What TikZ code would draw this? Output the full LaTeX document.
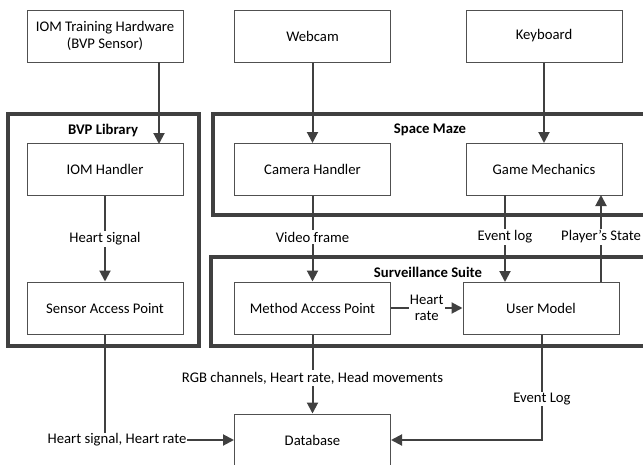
\documentclass[tikz,border=0pt]{standalone}
\usepackage{fontspec}
\setmainfont{Carlito}
\usetikzlibrary{arrows.meta}
\definecolor{ln}{HTML}{404040}
\definecolor{bx}{HTML}{505050}
\begin{document}
\begin{tikzpicture}[x=1pt,y=-1pt,
  box/.style={draw=bx, line width=1pt, minimum width=156pt, minimum height=52pt, inner sep=0pt, align=center, font=\fontsize{14.7}{17}\selectfont},
  cont/.style={draw=ln, line width=3.2pt},
  arr/.style={draw=ln, line width=2pt, -{Triangle[length=11pt,width=11pt]}},
  lbl/.style={fill=white, inner sep=1.5pt, font=\fontsize{14.7}{17}\selectfont, align=center},
  ttl/.style={font=\bfseries\fontsize{14.7}{17}\selectfont}]
\useasboundingbox (0,0) rectangle (643,464);
\clip (0,0) rectangle (643,464);
% containers
\draw[cont] (8,114) rectangle (199,346);
\draw[cont] (213,114) rectangle (660,215);
\draw[cont] (211,257) rectangle (660,346);
\node[ttl] (tbvp) at (103,130) {BVP Library};
\node[ttl] (tsm) at (430,130) {Space Maze};
\node[ttl] (tss) at (428,272) {Surveillance Suite};
% boxes
\node[box] (iom) at (105,36) {IOM Training Hardware\\(BVP Sensor)};
\node[box] (webcam) at (312.5,36) {Webcam};
\node[box] (keyboard) at (544,36) {Keyboard};
\node[box] (iomh) at (105,169.5) {IOM Handler};
\node[box] (sap) at (105,308) {Sensor Access Point};
\node[box] (cam) at (312.5,169.5) {Camera Handler};
\node[box] (game) at (544,169.5) {Game Mechanics};
\node[box] (map) at (312.5,308) {Method Access Point};
\node[box] (user) at (541,308) {User Model};
\node[box] (db) at (312.5,440) {Database};
% connectors
\coordinate (i1) at (159,62);
\coordinate (i2) at (159,144);
\draw[arr] (i1) -- (i2);
\draw[arr] (webcam.south) -- (cam.north);
\draw[arr] (keyboard.south) -- (keyboard.south |- game.north);
\draw[arr] (iomh.south) -- node[lbl] (lhs) {Heart signal} (sap.north);
\draw[arr] (cam.south) -- node[lbl, pos=0.48] (lvf) {Video frame} (map.north);
\coordinate (g1) at (505,195);
\coordinate (u1) at (505,282);
\draw[arr] (g1) -- node[lbl, pos=0.48] (lel) {Event log} (u1);
\coordinate (u2) at (601,282);
\coordinate (g2) at (601,195);
\draw[arr] (u2) -- node[lbl, pos=0.52] (lps) {Player’s State} (g2);
\draw[arr] (map.east) -- node[lbl, inner sep=1pt, font=\fontsize{14.7}{16.5}\selectfont] (lhr) {Heart\\rate} (user.west);
\draw[arr] (map.south) -- node[lbl, pos=0.55] (lrgb) {RGB channels, Heart rate, Head movements} (db.north);
\coordinate (c1) at (105,440);
\draw[arr] (sap.south) -- (c1) -- (db.west);
\node[lbl, inner sep=1pt] (lhshr) at (117,440) {Heart signal, Heart rate};
\coordinate (c2) at (542,440);
\draw[arr] (user.south -| c2) -- (c2) -- (db.east);
\node[lbl] (lelog) at (542,399) {Event Log};
\end{tikzpicture}
\end{document}
